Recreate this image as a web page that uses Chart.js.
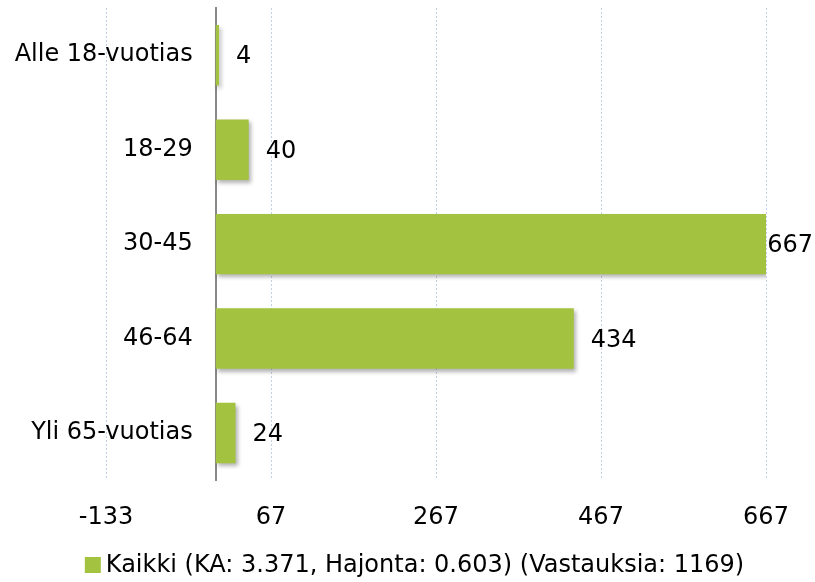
<!DOCTYPE html>
<html lang="fi">
<head>
    <meta charset="UTF-8">
    <title>Ikäryhmät</title>
    <script src="https://cdn.jsdelivr.net/npm/chart.js"></script>
    <style>
        body { margin: 0; background: #fff; }
        #wrap { width: 815px; height: 582px; }
    </style>
</head>
<body>
    <div id="wrap"><canvas id="ageChart"></canvas></div>

    <script>
        // data
        const categories = ["Alle 18-vuotias", "18-29", "30-45", "46-64", "Yli 65-vuotias"];
        const values = [4, 40, 667, 434, 24];
        const xTicks = [-133, 67, 267, 467, 667];
        const seriesLabel = "Kaikki (KA: 3.371, Hajonta: 0.603) (Vastauksia: 1169)";

        const FONT = "'DejaVu Sans', Verdana, sans-serif";
        const green = "#a3c23f";

        // category labels next to the zero line, value labels at bar ends, legend below
        const labelPlugin = {
            id: "labels",
            beforeDatasetsDraw(chart) {
                const ctx = chart.ctx;
                ctx.save();
                ctx.shadowColor = "rgba(0,0,0,0.3)";
                ctx.shadowBlur = 4;
                ctx.shadowOffsetX = 2;
                ctx.shadowOffsetY = 3;
            },
            afterDatasetsDraw(chart) {
                const ctx = chart.ctx;
                ctx.restore();
                const xs = chart.scales.x;
                const ys = chart.scales.y;
                ctx.save();
                ctx.fillStyle = "#000";
                ctx.textBaseline = "middle";
                ctx.font = "24px " + FONT;
                ctx.textAlign = "right";
                categories.forEach((c, i) => {
                    ctx.fillText(c, xs.getPixelForValue(0) - 23, ys.getPixelForValue(i));
                });
                ctx.textAlign = "left";
                chart.getDatasetMeta(0).data.forEach((bar, i) => {
                    const txt = String(values[i]);
                    const w = ctx.measureText(txt).width;
                    const x = Math.min(bar.x + 17, chart.width - w - 2);
                    ctx.fillText(txt, x, bar.y + 2);
                });

                // legend
                const ds = chart.data.datasets[0];
                const tw = ctx.measureText(ds.label).width;
                const box = 16, gap = 5;
                const lx = chart.width / 2 + 7 - (box + gap + tw) / 2;
                const ly = chart.height - 17;
                ctx.fillStyle = ds.backgroundColor;
                ctx.fillRect(lx, ly - box / 2, box, box);
                ctx.fillStyle = "#000";
                ctx.fillText(ds.label, lx + box + gap, ly + 1);
                ctx.restore();
            }
        };

        const ctx = document.getElementById("ageChart").getContext("2d");
        new Chart(ctx, {
            type: "bar",
            data: {
                labels: categories,
                datasets: [{
                    label: seriesLabel,
                    data: values,
                    backgroundColor: green,
                    borderWidth: 0,
                    categoryPercentage: 0.8,
                    barPercentage: 0.8
                }]
            },
            options: {
                indexAxis: "y",
                responsive: true,
                maintainAspectRatio: false,
                animation: false,
                layout: { padding: { left: 106, right: 49, top: 8, bottom: 27 } },
                scales: {
                    x: {
                        min: -133,
                        max: 667,
                        afterBuildTicks: (scale) => {
                            scale.ticks = xTicks.map(v => ({ value: v }));
                        },
                        grid: { color: "#bfd0e6", lineWidth: 1, drawTicks: false },
                        border: { display: false, dash: [2, 2] },
                        ticks: { color: "#000", padding: 23, font: { family: FONT, size: 24 } }
                    },
                    y: {
                        position: { x: 0 },
                        grid: { display: false, drawTicks: false },
                        border: { display: true, color: "#888", width: 2 },
                        ticks: { display: false }
                    }
                },
                plugins: {
                    legend: { display: false },
                    tooltip: { enabled: false }
                }
            },
            plugins: [labelPlugin]
        });
    </script>
</body>
</html>
